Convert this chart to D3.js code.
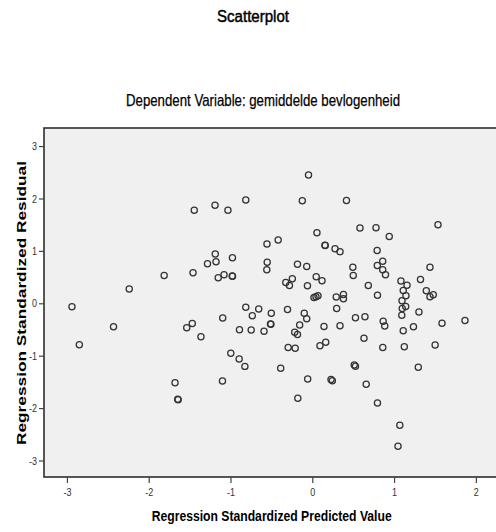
<!DOCTYPE html>
<html>
<head>
<meta charset="utf-8">
<script src="https://cdn.jsdelivr.net/npm/d3@7"></script>
<style>
  html, body { margin: 0; padding: 0; background: #ffffff; }
  svg { display: block; }
  .sans { font-family: "Liberation Sans", Arial, sans-serif; }
</style>
</head>
<body>
<svg id="chart" width="496" height="532"></svg>
<script>
// Regression standardized predicted values (x) and residuals (y)
const predicted = [
  -2.938, -2.848, -2.430, -2.238, -1.811, -1.678, -1.645, -1.640, -1.535, -1.467,
  -1.458, -1.443, -1.361, -1.281, -1.189, -1.186, -1.177, -1.150, -1.095, -1.098,
  -1.079, -1.031, -0.996, -0.976, -0.979, -0.975, -0.890, -0.894, -0.824, -0.813,
  -0.813, -0.747, -0.733, -0.655, -0.590, -0.554, -0.551, -0.556, -0.511, -0.506,
  -0.501, -0.417, -0.386, -0.324, -0.303, -0.295, -0.279, -0.244, -0.215, -0.209,
  -0.181, -0.181, -0.177, -0.154, -0.122, -0.098, -0.068, -0.068, -0.059, -0.056,
  -0.046, 0.021, 0.045, 0.070, 0.048, 0.057, 0.094, 0.119, 0.143, 0.155,
  0.158, 0.164, 0.229, 0.245, 0.278, 0.293, 0.298, 0.339, 0.339, 0.381,
  0.381, 0.418, 0.496, 0.501, 0.513, 0.528, 0.528, 0.583, 0.632, 0.644,
  0.659, 0.685, 0.779, 0.793, 0.795, 0.797, 0.797, 0.861, 0.861, 0.895,
  0.867, 0.886, 0.862, 0.941, 1.048, 1.070, 1.084, 1.158, 1.112, 1.145,
  1.097, 1.142, 1.100, 1.094, 1.112, 1.125, 1.237, 1.304, 1.296, 1.323,
  1.394, 1.439, 1.479, 1.439, 1.502, 1.537, 1.586, 1.867
];
const residual = [
  -0.065, -0.790, -0.447, 0.273, 0.531, -1.515, -1.832, -1.840, -0.466, -0.385,
  0.584, 1.775, -0.639, 0.756, 1.870, 0.941, 0.792, 0.487, -0.281, -1.483,
  0.544, 1.775, -0.954, 0.868, 0.521, 0.515, -0.504, -1.065, -1.204, 1.971,
  -0.074, -0.510, -0.237, -0.109, -0.532, 1.132, 0.784, 0.639, -0.395, -0.400,
  -0.191, 1.208, -1.239, 0.397, -0.118, -0.842, 0.340, 0.468, -0.553, -0.859,
  -0.595, 0.744, -1.811, -0.414, 1.958, -0.189, 0.702, -0.294, 0.336, -1.445,
  2.448, 0.111, 0.126, 0.143, 0.508, 1.347, -0.809, 0.431, -0.443, 1.107,
  1.102, -0.744, -1.454, -1.477, 1.042, 0.120, -0.099, 0.985, -0.429, 0.168,
  0.086, 1.962, 0.687, 0.531, -1.177, -1.200, -0.277, 1.437, -0.668, -0.256,
  -1.546, 0.340, 1.443, 1.008, 0.721, 0.153, -1.903, 0.803, 0.641, 0.544,
  -0.342, -0.433, -0.844, 1.275, -2.727, -2.328, 0.426, 0.344, 0.244, 0.145,
  0.050, -0.061, -0.099, -0.227, -0.525, -0.828, -0.447, -0.166, -1.221, 0.454,
  0.240, 0.126, 0.164, 0.687, -0.796, 1.500, -0.382, -0.328
];
const xTicks = [-3, -2, -1, 0, 1, 2];
const yTicks = [-3, -2, -1, 0, 1, 2, 3];

const chartTitle = "Scatterplot";
const subTitle = "Dependent Variable: gemiddelde bevlogenheid";
const xTitle = "Regression Standardized Predicted Value";
const yTitle = "Regression Standardized Residual";

const points = predicted.map((v, i) => ({ x: v, y: residual[i] }));

const svg = d3.select("#chart");
const plot = { left: 44, right: 500, top: 128, bottom: 477 };

const x = d3.scaleLinear().domain([-3.280, 2.295]).range([plot.left, plot.right]);
const y = d3.scaleLinear().domain([-3.315, 3.345]).range([plot.bottom, plot.top]);

// Condensed text: squeeze a regular face into a fixed width
function narrowText(sel, width) {
  return sel.attr("textLength", width).attr("lengthAdjust", "spacingAndGlyphs");
}

// Titles (a hairline stroke keeps the condensed strokes dark)
svg.append("text")
  .attr("class", "sans")
  .attr("x", 253).attr("y", 22)
  .attr("text-anchor", "middle")
  .attr("font-size", 16)
  .attr("fill", "#000")
  .attr("stroke", "#000").attr("stroke-width", 0.45)
  .text(chartTitle)
  .call(narrowText, 72);

svg.append("text")
  .attr("class", "sans")
  .attr("x", 263).attr("y", 106)
  .attr("text-anchor", "middle")
  .attr("font-size", 16.5)
  .attr("fill", "#000")
  .attr("stroke", "#000").attr("stroke-width", 0.25)
  .text(subTitle)
  .call(narrowText, 274);

// Plot background and frame
svg.append("rect")
  .attr("x", plot.left).attr("y", plot.top)
  .attr("width", plot.right - plot.left).attr("height", plot.bottom - plot.top)
  .attr("fill", "#f0f0f0")
  .attr("stroke", "#2e2e2e")
  .attr("stroke-width", 1.6);

// Axes
const xAxis = svg.append("g")
  .attr("transform", `translate(0,${plot.bottom})`)
  .call(d3.axisBottom(x).tickValues(xTicks).tickSize(6).tickPadding(5).tickFormat(d3.format("d")));
const yAxis = svg.append("g")
  .attr("transform", `translate(${plot.left},0)`)
  .call(d3.axisLeft(y).tickValues(yTicks).tickSize(5).tickPadding(2).tickFormat(d3.format("d")));

[xAxis, yAxis].forEach(g => {
  g.select(".domain").remove();
  g.selectAll(".tick line").attr("stroke", "#444").attr("stroke-width", 1.2);
  g.selectAll(".tick text")
    .attr("class", "sans")
    .attr("font-size", 11)
    .attr("fill", "#333")
    .text(d => d < 0 ? "-" + Math.abs(d) : String(d))
    .each(function (d) {
      d3.select(this).call(narrowText, d < 0 ? 8 : 5);
    });
});

// Points: open circles
svg.append("g")
  .selectAll("circle")
  .data(points)
  .join("circle")
  .attr("cx", d => x(d.x))
  .attr("cy", d => y(d.y))
  .attr("r", 3.1)
  .attr("fill", "none")
  .attr("stroke", "#333")
  .attr("stroke-width", 1.25);

// Axis titles
svg.append("text")
  .attr("class", "sans")
  .attr("x", 271.7).attr("y", 521)
  .attr("text-anchor", "middle")
  .attr("font-size", 15.5)
  .attr("font-weight", "bold")
  .attr("fill", "#000")
  .text(xTitle)
  .call(narrowText, 240);

svg.append("text")
  .attr("class", "sans")
  .attr("transform", "translate(25.5,303) rotate(-90)")
  .attr("text-anchor", "middle")
  .attr("font-size", 13)
  .attr("font-weight", "bold")
  .attr("fill", "#000")
  .text(yTitle)
  .call(narrowText, 284);
</script>
</body>
</html>
